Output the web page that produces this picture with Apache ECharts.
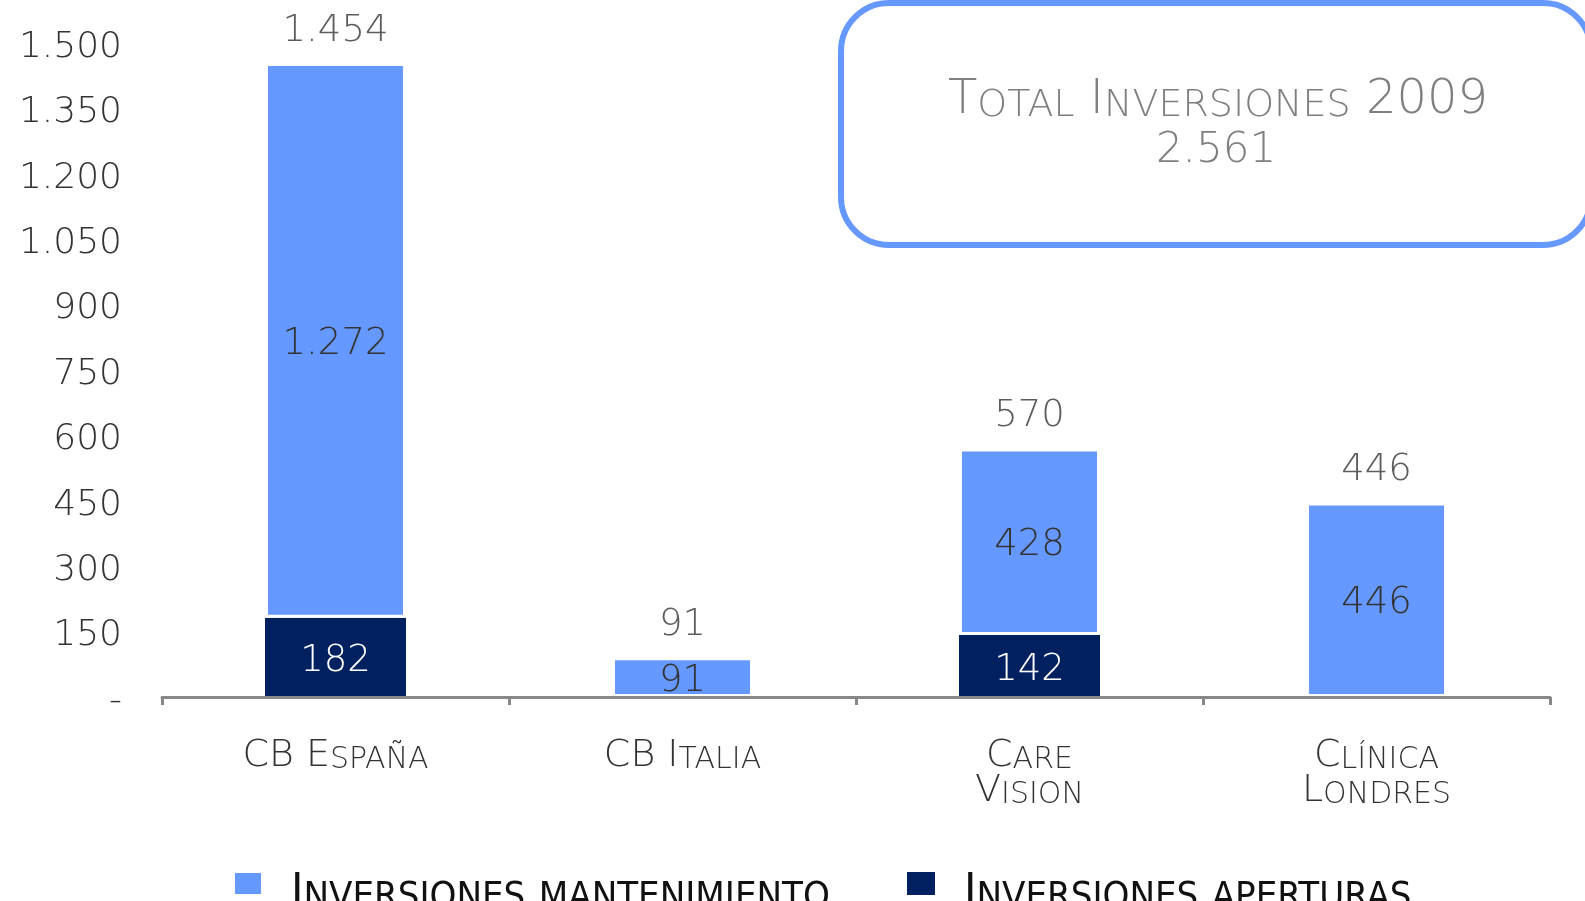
<!DOCTYPE html>
<html>
<head>
<meta charset="utf-8">
<title>Total Inversiones 2009</title>
<script src="https://cdn.jsdelivr.net/npm/echarts@6/dist/echarts.min.js"></script>
<style>
  html, body { margin: 0; padding: 0; background: #fff; }
  #chart { width: 1585px; height: 901px; }
</style>
</head>
<body>
<div id="chart"></div>
<script>
var categories = ["CB España", "CB Italia", "Care\nVision", "Clínica\nLondres"];
var mantenimiento = [1272, 91, 428, 446];
var aperturas = [182, 0, 142, 0];
var totales = [1454, 91, 570, 446];
var seriesNames = ["Inversiones mantenimiento", "Inversiones aperturas"];
var boxTitle = "Total Inversiones 2009";
var yMin = 0, yMax = 1500, yStep = 150;

var FONT = "'DejaVu Sans', Verdana, sans-serif";
var NARROW = "'Liberation Sans Narrow', 'DejaVu Sans Condensed', 'Liberation Sans', sans-serif";
var LIGHT = "#6699ff";
var DARK = "#002060";
var INK = "#333";

// 1454 -> "1.454"
function fmt(v) {
  return String(v).replace(/\B(?=(\d{3})+(?!\d))/g, ".");
}

// fake small caps with two rich styles: capitals big, lower case as smaller capitals
function smallCaps(str, big, small) {
  return str.split("\n").map(function (line) {
    var out = "", cur = null, buf = "";
    for (var i = 0; i < line.length; i++) {
      var ch = line[i];
      var lower = ch !== ch.toUpperCase();
      var st = lower ? small : big;
      if (st !== cur) {
        if (buf) out += "{" + cur + "|" + buf + "}";
        buf = "";
        cur = st;
      }
      buf += lower ? ch.toUpperCase() : ch;
    }
    if (buf) out += "{" + cur + "|" + buf + "}";
    return out;
  }).join("\n");
}

function capsRich(big, small, bigSize, smallSize, lh, color, family, weight) {
  var r = {};
  r[big] = { fontSize: bigSize, lineHeight: lh, verticalAlign: "bottom",
    fontFamily: family, color: color, fill: color, fontWeight: weight };
  r[small] = { fontSize: smallSize, lineHeight: lh - 0.6 * (bigSize - smallSize),
    verticalAlign: "bottom", fontFamily: family, color: color, fill: color, fontWeight: weight };
  return r;
}

var grandTotal = totales.reduce(function (a, b) { return a + b; }, 0);

var dom = document.getElementById("chart");
var myChart = echarts.init(dom, null, { renderer: "canvas" });

function legendFor(name, left) {
  return {
    data: [name],
    left: left,
    top: 870,
    padding: 0,
    icon: "rect",
    itemWidth: 28,
    itemHeight: 23,
    selectedMode: false,
    formatter: function (n) { return smallCaps(n, "lB", "lS"); },
    textStyle: {
      padding: [20, 0, 0, 24],
      rich: capsRich("lB", "lS", 47, 38, 47, "#111", NARROW, "normal")
    }
  };
}

var valueLabel = {
  show: true,
  fontSize: 37,
  fontFamily: FONT,
  fontWeight: 200,
  color: INK,
  offset: [0, 4],
  formatter: function (p) { return p.value ? fmt(p.value) : ""; }
};

var option = {
  animation: false,
  backgroundColor: "#fff",
  grid: { left: 162, right: 35, top: 43, bottom: 204 },
  legend: [legendFor(seriesNames[0], 233), legendFor(seriesNames[1], 907)],
  xAxis: {
    type: "category",
    data: categories,
    z: 3,
    axisLine: { lineStyle: { color: "#878787", width: 3 } },
    axisTick: { show: true, length: 8, lineStyle: { color: "#878787", width: 3 } },
    axisLabel: {
      interval: 0,
      margin: 43,
      formatter: function (v) { return smallCaps(v, "cB", "cS"); },
      rich: capsRich("cB", "cS", 38, 30, 35, INK, FONT, 200)
    }
  },
  yAxis: {
    type: "value",
    min: yMin,
    max: yMax,
    interval: yStep,
    axisLine: { show: false },
    axisTick: { show: false },
    splitLine: { show: false },
    axisLabel: {
      margin: 40,
      formatter: function (v) { return "{v|" + (v === 0 ? "-" : fmt(v)) + "}"; },
      rich: {
        v: {
          padding: [9, 0, 0, 0],
          fontSize: 36,
          fontFamily: FONT,
          fontWeight: 200,
          color: INK
        }
      }
    }
  },
  graphic: [
    {
      type: "rect",
      shape: { x: 841, y: 3, width: 750, height: 242, r: 48 },
      style: { fill: "#fff", stroke: LIGHT, lineWidth: 6 },
      z: 0
    },
    {
      type: "text",
      x: 1218,
      y: 101,
      style: {
        text: smallCaps(boxTitle, "tB", "tS"),
        align: "center",
        verticalAlign: "middle",
        rich: capsRich("tB", "tS", 48, 38, 48, "#7f7f7f", FONT, 200)
      },
      z: 1
    },
    {
      type: "text",
      x: 1216,
      y: 151,
      style: {
        text: fmt(grandTotal),
        align: "center",
        verticalAlign: "middle",
        fontSize: 42,
        fontFamily: FONT,
        fontWeight: 200,
        fill: "#7f7f7f"
      },
      z: 1
    }
  ],
  series: [
    {
      name: seriesNames[1],
      type: "bar",
      stack: "total",
      barWidth: 141,
      data: aperturas,
      itemStyle: { color: DARK },
      label: Object.assign({}, valueLabel, { position: "inside", color: "#fff" })
    },
    {
      name: seriesNames[0],
      type: "bar",
      stack: "total",
      data: mantenimiento,
      // white edge makes the light bars a little narrower than the dark ones
      itemStyle: { color: LIGHT, borderColor: "#fff", borderWidth: 3 },
      label: Object.assign({}, valueLabel, { position: "inside" })
    },
    {
      name: "total",
      type: "scatter",
      data: totales,
      symbolSize: 1,
      silent: true,
      itemStyle: { color: "rgba(0,0,0,0)" },
      label: Object.assign({}, valueLabel, { position: "top", distance: 17 }),
      z: 5
    }
  ]
};

myChart.setOption(option, true);
window.onresize = function () {
  myChart.resize();
};
</script>
</body>
</html>
